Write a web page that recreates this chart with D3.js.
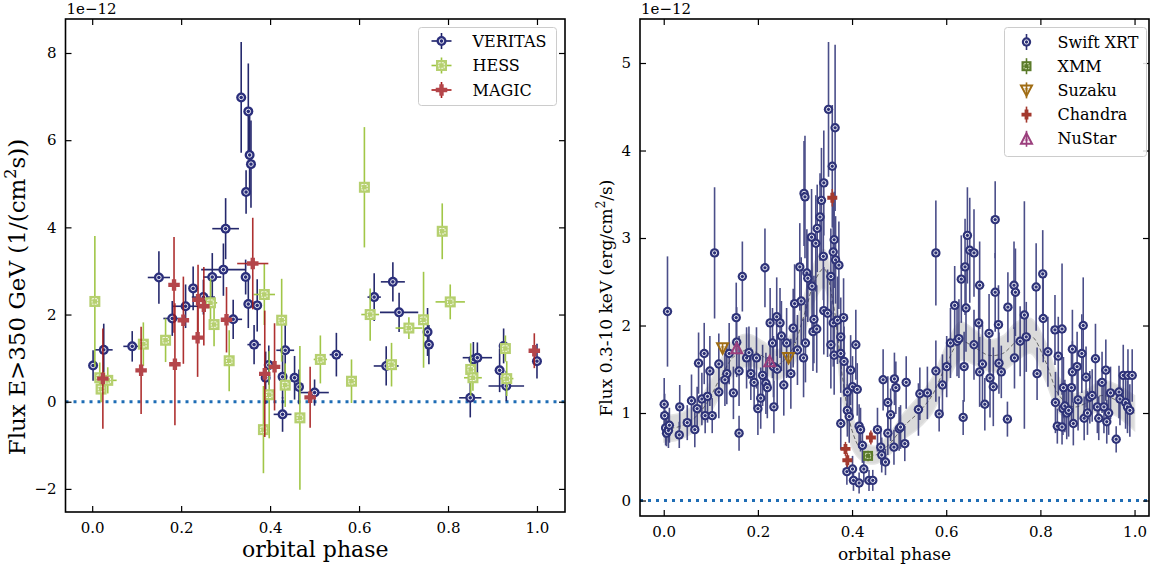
<!DOCTYPE html>
<html><head><meta charset="utf-8">
<script src="https://cdn.jsdelivr.net/npm/d3@7"></script>
<style>body{margin:0;background:#fff} svg text{font-family:"DejaVu Serif",serif;fill:#000}</style>
</head><body>
<svg id="c" width="1158" height="565"></svg>
<script>
// ---------- DATA (flux in units of 1e-12) ----------
// Left panel: [phase, flux, xerr, yerr]
const veritas = [
[0.002,0.83,0,0.35],[0.026,1.19,0.02,0.6],[0.09,1.27,0.02,0.35],[0.15,2.85,0.025,0.6],
[0.18,1.91,0.02,0.4],[0.227,2.6,0.01,0.5],[0.21,2.19,0.03,0.5],[0.25,2.4,0.026,0.4],
[0.27,2.86,0.02,0.55],[0.295,3.03,0.05,0.6],[0.30,3.97,0.03,0.7],[0.317,1.89,0.02,0.45],
[0.335,6.98,0,1.27],[0.351,6.66,0,1.1],[0.354,5.66,0,0.9],[0.357,5.45,0,1.0],
[0.346,4.81,0,0.5],[0.345,2.86,0.01,0.4],[0.351,2.24,0.01,0.55],[0.371,2.21,0,0.6],
[0.364,1.31,0.015,0.45],[0.434,1.18,0.02,0.6],[0.397,0.84,0,0.45],[0.39,0.55,0,0.6],
[0.428,0.57,0,0.5],[0.455,0.55,0,0.5],[0.465,0.34,0,0.4],[0.50,0.21,0.032,0.3],
[0.428,-0.29,0.02,0.4],[0.549,1.08,0.015,0.5],[0.634,2.40,0.015,0.55],[0.676,2.75,0.027,0.45],
[0.69,2.05,0.043,0.45],[0.754,1.6,0,0.55],[0.757,1.31,0.01,0.45],[0.661,0.82,0.028,0.45],
[0.85,0.09,0.025,0.45],[0.857,0.97,0,0.4],[0.866,1.01,0.033,0.35],[0.916,0.72,0,0.5],
[0.931,0.36,0.04,0.35],[0.925,1.28,0,0.4],[1.0,0.93,0,0.4]
];
const hess = [
[0.006,2.3,0,1.5],[0.017,0.55,0.01,0.35],[0.02,0.29,0.01,0.3],[0.035,0.49,0.02,0.3],
[0.115,1.32,0,0.5],[0.165,1.41,0,0.5],[0.266,2.27,0.015,0.55],[0.274,1.77,0,0.5],
[0.308,0.94,0,0.7],[0.387,2.46,0.024,0.7],[0.426,1.87,0,0.95],[0.513,0.97,0.015,0.55],
[0.583,0.47,0,0.5],[0.625,2.0,0.02,0.6],[0.398,0.16,0,1.0],[0.434,0.38,0,0.5],
[0.467,-0.37,0,1.65],[0.385,-0.64,0,1.0],[0.612,4.92,0,1.38],[0.787,3.91,0.01,0.64],
[0.805,2.29,0.033,0.4],[0.712,1.69,0.03,0.25],[0.745,1.88,0,1.1],[0.673,0.85,0,0.5],
[0.851,0.74,0,0.6],[0.856,0.55,0.02,0.3],[0.929,1.22,0,0.3],[0.932,0.53,0.015,0.4]
];
const magic = [
[0.024,0.53,0.01,1.15],[0.11,0.72,0,1.0],[0.184,2.68,0,1.1],[0.186,0.86,0,1.4],
[0.205,1.87,0,1.0],[0.238,2.34,0,0.8],[0.251,2.19,0,0.9],[0.237,1.47,0,0.9],
[0.302,1.88,0,0.75],[0.361,3.17,0.035,1.05],[0.388,0.64,0,1.45],[0.41,0.8,0,1.0],
[0.49,0.1,0,0.7],[0.994,1.17,0.005,0.4]
];
// Right panel: [phase, flux, yerr]
const swift = [
[0.008,2.16,0.63],[0.001,1.10,0.3],[0.002,0.97,0.25],[0.004,0.83,0.2],[0.006,0.77,0.15],[0.01,0.80,0.2],[0.012,0.86,0.2],
[0.034,1.07,0.25],[0.033,0.75,0.15],[0.05,0.89,0.2],[0.059,1.14,0.3],[0.066,0.81,0.2],[0.071,1.05,0.25],[0.074,1.57,0.35],
[0.081,1.16,0.3],[0.086,1.68,0.35],[0.088,0.97,0.2],[0.093,1.19,0.3],[0.098,1.48,0.4],[0.103,0.97,0.2],[0.108,2.83,0.75],
[0.117,1.24,0.3],[0.117,1.56,0.35],[0.134,1.45,0.35],[0.13,1.38,0.3],[0.139,1.68,0.35],[0.154,2.09,0.4],[0.148,1.23,0.3],
[0.16,0.77,0.2],[0.16,1.48,0.4],[0.167,2.56,0.4],[0.155,1.81,0.4],[0.176,1.63,0.35],[0.181,1.69,0.3],[0.185,1.45,0.3],
[0.192,1.35,0.3],[0.197,1.63,0.35],[0.2,1.05,0.3],[0.206,1.17,0.35],[0.21,1.43,0.35],[0.215,2.66,0.45],[0.217,1.34,0.35],
[0.22,1.29,0.35],[0.226,2.03,0.4],[0.231,1.8,0.4],[0.233,1.53,0.35],[0.234,1.07,0.3],[0.24,2.1,0.45],[0.241,1.5,0.4],
[0.247,2.03,0.4],[0.25,1.88,0.4],[0.255,1.32,0.35],[0.261,1.8,0.4],[0.27,1.45,0.4],[0.275,1.97,0.45],[0.278,2.25,0.45],
[0.284,1.72,0.4],[0.289,2.67,0.5],[0.292,2.28,0.5],[0.297,1.63,0.45],[0.298,3.51,0.6],[0.30,3.47,0.7],[0.301,1.8,0.45],
[0.304,2.6,0.5],[0.306,2.54,0.5],[0.315,2.45,0.5],[0.314,3.01,0.55],[0.319,2.07,0.5],[0.317,1.93,0.45],[0.325,1.96,0.5],
[0.323,2.94,0.55],[0.326,3.11,0.5],[0.332,3.24,0.5],[0.335,3.43,0.6],[0.339,2.79,0.5],[0.34,3.63,0.6],[0.34,2.17,0.5],
[0.348,2.14,0.5],[0.35,4.47,0.77],[0.358,3.82,0.7],[0.364,4.26,0.95],[0.362,2.98,0.55],[0.36,2.84,0.6],[0.355,2.56,0.55],
[0.365,2.75,0.5],[0.372,2.69,0.5],[0.36,2.03,0.5],[0.369,2.06,0.5],[0.382,2.09,0.45],[0.376,1.87,0.45],[0.355,1.78,0.5],
[0.362,1.66,0.45],[0.376,1.68,0.45],[0.383,1.59,0.4],[0.397,1.49,0.4],[0.408,1.78,0.4],[0.39,1.24,0.35],[0.401,1.3,0.35],
[0.411,1.27,0.3],[0.39,1.03,0.3],[0.394,0.96,0.3],[0.376,0.88,0.3],[0.389,0.33,0.15],[0.401,0.36,0.15],[0.403,0.23,0.12],
[0.415,0.2,0.12],[0.415,0.85,0.25],[0.418,0.81,0.25],[0.422,0.63,0.2],[0.425,0.36,0.15],[0.436,0.23,0.12],[0.444,0.23,0.12],
[0.454,0.81,0.25],[0.461,0.61,0.2],[0.463,0.52,0.2],[0.471,0.44,0.15],[0.466,1.38,0.35],[0.476,1.12,0.3],[0.476,0.77,0.25],
[0.482,0.98,0.3],[0.49,1.39,0.3],[0.493,1.29,0.3],[0.489,0.61,0.2],[0.50,0.82,0.25],
[0.503,0.84,0.25],[0.512,0.65,0.2],[0.515,1.35,0.3],[0.541,1.04,0.3],[0.544,1.22,0.3],[0.56,1.23,0.3],[0.578,2.83,0.6],
[0.578,1.48,0.35],[0.585,0.99,0.2],[0.592,1.32,0.35],[0.601,1.53,0.35],[0.609,1.8,0.4],[0.618,2.23,0.45],[0.623,1.82,0.4],
[0.627,1.85,0.45],[0.632,2.53,0.5],[0.638,1.53,0.4],[0.636,0.95,0.2],[0.64,2.67,0.55],[0.642,2.2,0.5],[0.645,3.03,0.55],
[0.65,2.86,0.6],[0.659,2.83,0.5],[0.659,1.78,0.4],[0.669,2.03,0.45],[0.671,2.46,0.5],[0.671,1.47,0.4],[0.677,1.56,0.45],
[0.682,1.1,0.3],[0.691,1.91,0.45],[0.693,1.4,0.45],[0.70,1.3,0.45],[0.704,3.21,0.44],[0.704,2.38,0.45],[0.711,2.01,0.45],
[0.712,1.57,0.35],[0.717,1.47,0.3],[0.73,0.93,0.2],[0.731,2.21,0.4],[0.744,2.46,0.5],[0.747,2.38,0.5],[0.745,1.63,0.35],
[0.757,1.82,0.4],[0.766,2.12,1.3],[0.77,1.87,0.4],[0.791,2.44,0.5],[0.793,1.45,0.3],[0.805,2.59,0.5],[0.806,2.08,0.5],
[0.816,1.7,0.4],[0.831,1.95,0.4],[0.838,1.65,0.45],[0.846,1.96,0.75],[0.832,1.12,0.35],[0.836,0.85,0.2],[0.846,0.84,0.2],
[0.848,1.05,0.3],[0.852,1.08,0.3],[0.856,1.0,0.3],[0.86,1.03,0.3],[0.849,1.29,0.35],[0.866,1.29,0.4],[0.868,1.73,0.45],
[0.87,0.88,0.25],[0.868,1.47,0.35],[0.878,1.53,0.4],[0.88,1.15,0.35],[0.888,1.68,0.45],[0.891,2.0,0.55],[0.893,0.94,0.25],
[0.897,1.41,0.35],[0.90,1.0,0.25],[0.905,1.18,0.3],[0.91,1.2,0.3],[0.917,1.62,0.4],[0.921,1.07,0.3],[0.924,0.94,0.25],
[0.931,1.35,0.35],[0.935,1.07,0.3],[0.939,1.49,0.35],[0.941,0.9,0.25],[0.945,1.0,0.25],[0.949,1.23,0.3],[0.961,0.7,0.15],
[0.967,1.24,0.3],[0.969,1.16,0.3],[0.976,1.43,0.35],[0.981,1.12,0.3],[0.985,1.07,0.3],[0.986,1.43,0.3],[0.99,1.03,0.3],
[0.995,1.43,0.3]
];
const xmm = [[0.434,0.51,0.06]];
const suzaku = [[0.125,1.74,0.06],[0.265,1.63,0.06]];
const chandra = [[0.358,3.46,0.1],[0.386,0.59,0.08],[0.39,0.46,0.08],[0.44,0.72,0.08]];
const nustar = [[0.155,1.74,0.05],[0.225,1.59,0.05]];
// model band (right panel): phase, centre, half-width
const modelPhase = [0,0.03,0.06,0.09,0.12,0.15,0.18,0.21,0.24,0.27,0.30,0.32,0.34,0.36,0.38,0.40,0.42,0.45,0.48,0.51,0.54,0.57,0.60,0.63,0.66,0.69,0.72,0.75,0.78,0.81,0.84,0.87,0.90,0.93,0.96,1.0];
const modelFlux  = [0.82,0.84,0.92,1.1,1.4,1.65,1.72,1.65,1.55,1.7,2.15,2.5,2.65,2.25,1.4,0.8,0.58,0.52,0.65,0.85,1.0,1.2,1.55,1.82,1.75,1.66,1.68,1.82,1.88,1.6,1.2,1.07,1.12,1.2,1.15,1.0];
const modelHalf  = [0.15,0.15,0.15,0.17,0.2,0.2,0.18,0.17,0.17,0.2,0.22,0.22,0.22,0.25,0.25,0.2,0.12,0.1,0.12,0.15,0.18,0.2,0.22,0.22,0.2,0.18,0.2,0.22,0.2,0.22,0.2,0.15,0.15,0.17,0.18,0.2];
const xTickVals = [0,0.2,0.4,0.6,0.8,1.0];
const leftYTicks = [-2,0,2,4,6,8];
const rightYTicks = [0,1,2,3,4,5];

// ---------- DRAW ----------
const svg = d3.select('#c');
const fmtY = d => d < 0 ? '\u2212' + Math.abs(d) : String(d);

function makeAxes(o){
  const x = d3.scaleLinear().domain(o.xlim).range([o.x0,o.x1]);
  const y = d3.scaleLinear().domain(o.ylim).range([o.y1,o.y0]);
  const g = svg.append('g');
  const clipId = 'clip'+o.id;
  svg.append('clipPath').attr('id',clipId).append('rect')
    .attr('x',o.x0).attr('y',o.y0).attr('width',o.x1-o.x0).attr('height',o.y1-o.y0);
  const plot = g.append('g').attr('clip-path',`url(#${clipId})`);
  return {x,y,g,plot};
}
function finishAxes(A,o){
  const {x,y,g} = A;
  const ax = (gen, tr, lab) => {
    const a = g.append('g').attr('transform',tr).call(gen);
    a.select('.domain').remove();
    a.selectAll('.tick line').attr('stroke','#000').attr('stroke-width',1.2);
    a.selectAll('.tick text').style('font-size',o.tickFs+'px').style('font-family','DejaVu Serif').attr('fill','#000');
    if(!lab) a.selectAll('.tick text').remove();
    return a;
  };
  ax(d3.axisBottom(x).tickValues(xTickVals).tickFormat(d3.format('.1f')).tickSize(-6).tickSizeOuter(0).tickPadding(10), `translate(0,${o.y1})`, true);
  ax(d3.axisTop(x).tickValues(xTickVals).tickSize(-6).tickSizeOuter(0), `translate(0,${o.y0})`, false);
  ax(d3.axisLeft(y).tickValues(o.yTicks).tickFormat(fmtY).tickSize(-6).tickSizeOuter(0).tickPadding(9), `translate(${o.x0},0)`, true);
  ax(d3.axisRight(y).tickValues(o.yTicks).tickSize(-6).tickSizeOuter(0), `translate(${o.x1},0)`, false);
  g.append('rect').attr('x',o.x0).attr('y',o.y0).attr('width',o.x1-o.x0).attr('height',o.y1-o.y0)
    .attr('fill','none').attr('stroke','#000').attr('stroke-width',1.6);
  g.append('text').attr('x',o.x0+1).attr('y',o.y0-5).style('font-size',o.tickFs+'px').text('1e\u221212');
  g.append('text').attr('x',(o.x0+o.x1)/2).attr('y',o.xlabY).attr('text-anchor','middle')
    .style('font-size',o.xlabFs+'px').text('orbital phase');
  const yl = g.append('text').attr('transform',`translate(${o.ylabX},${o.ylabCY}) rotate(-90)`)
    .attr('text-anchor','middle').style('font-size',o.ylabFs+'px');
  o.ylabel(yl);
}

// marker painters
function mCircle(sel, r, col){
  sel.append('circle').attr('r',r).attr('fill',col);
  sel.append('circle').attr('r',r*0.45).attr('fill','none').attr('stroke','#fff').attr('stroke-width',0.9);
}
function mSquare(sel, s, col, inner){
  sel.append('rect').attr('x',-s/2).attr('y',-s/2).attr('width',s).attr('height',s).attr('fill',col);
  sel.append('rect').attr('x',-s/4).attr('y',-s/4).attr('width',s/2).attr('height',s/2)
    .attr('fill','none').attr('stroke',inner).attr('stroke-width',1).attr('stroke-dasharray','2,1');
}
function mPlus(sel, s, col){
  const a = s/2, w = s*0.19;
  sel.append('path').attr('d',`M${-w},${-a}H${w}V${-w}H${a}V${w}H${w}V${a}H${-w}V${w}H${-a}V${-w}H${-w}Z`).attr('fill',col);
}
function mTri(sel, s, col, down){
  const h = s*0.5, k = down?1:-1;
  sel.append('path').attr('d',`M0,${k*h}L${-h},${-k*h*0.9}L${h},${-k*h*0.9}Z`).attr('fill','none').attr('stroke',col).attr('stroke-width',2);
  sel.append('path').attr('d',`M0,${k*h*0.25}L${-h*0.3},${-k*h*0.35}L${h*0.3},${-k*h*0.35}Z`).attr('fill','none').attr('stroke',col).attr('stroke-width',0.8).attr('opacity',0.7);
}

function errorbars(A, data, col, lw, hasX, opacity){
  const g = A.plot.append('g').attr('stroke',col).attr('stroke-width',lw).attr('opacity',opacity);
  data.forEach(d => {
    const yerr = hasX ? d[3] : d[2];
    g.append('line').attr('x1',A.x(d[0])).attr('x2',A.x(d[0])).attr('y1',A.y(d[1]-yerr)).attr('y2',A.y(d[1]+yerr));
    if(hasX && d[2]>0) g.append('line').attr('x1',A.x(d[0]-d[2])).attr('x2',A.x(d[0]+d[2])).attr('y1',A.y(d[1])).attr('y2',A.y(d[1]));
  });
}
function markers(A, data, painter){
  const g = A.plot.append('g');
  data.forEach(d => { painter(g.append('g').attr('transform',`translate(${A.x(d[0])},${A.y(d[1])})`)); });
}

const C = {ver:'#2b2f7c', verE:'#1a1e66', hess:'#b6d070', hessE:'#9cc43e', mag:'#b4454a', magE:'#a61b1b',
  sw:'#2e3379', swE:'#2c3075', xmm:'#5b7b2a', suz:'#a06d14', cha:'#a3392e', nus:'#9b3f7d', zero:'#1f6db5'};

// ---------- LEFT PANEL ----------
const oL = {id:'L', x0:65.5, x1:565, y0:19, y1:512, xlim:[-0.06,1.063], ylim:[-2.53,8.78], yTicks:leftYTicks,
  tickFs:15, xlabFs:22, ylabFs:23, xlabY:557, ylabX:25, ylabCY:297,
  ylabel: t => { t.append('tspan').text('Flux E>350 GeV (1/(cm'); t.append('tspan').attr('dy',-9).style('font-size','16px').text('2');
                 t.append('tspan').attr('dy',9).text('s))'); } };
const L = makeAxes(oL);
L.plot.append('line').attr('x1',oL.x0).attr('x2',oL.x1).attr('y1',L.y(0)).attr('y2',L.y(0))
  .attr('stroke',C.zero).attr('stroke-width',3).attr('stroke-dasharray','3,5');
errorbars(L, veritas, C.verE, 1.6, true, 0.95);
markers(L, veritas, s => mCircle(s, 5, C.ver));
errorbars(L, hess, C.hessE, 1.6, true, 0.95);
markers(L, hess, s => mSquare(s, 11, C.hess, '#f4f8e8'));
errorbars(L, magic, C.magE, 1.6, true, 0.9);
markers(L, magic, s => mPlus(s, 11.5, C.mag));
finishAxes(L, oL);

// left legend
(function(){
  const lg = svg.append('g');
  lg.append('rect').attr('x',418.5).attr('y',27.5).attr('width',138).attr('height',78).attr('rx',3)
    .attr('fill','#fff').attr('fill-opacity',0.85).attr('stroke','#cccccc').attr('stroke-width',1);
  const items = [['VERITAS',C.ver,C.verE,s=>mCircle(s,5,C.ver)],['HESS',C.hess,C.hessE,s=>mSquare(s,11,C.hess,'#f4f8e8')],['MAGIC',C.mag,C.magE,s=>mPlus(s,11.5,C.mag)]];
  items.forEach((it,i) => {
    const cy = 41 + i*24.5, cx = 441.5;
    const g = lg.append('g').attr('transform',`translate(${cx},${cy})`);
    g.append('line').attr('x1',-10).attr('x2',10).attr('stroke',it[2]).attr('stroke-width',1.6);
    g.append('line').attr('y1',-8).attr('y2',8).attr('stroke',it[2]).attr('stroke-width',1.6);
    it[3](g);
    lg.append('text').attr('x',472.5).attr('y',cy+5.5).style('font-size','16px').text(it[0]);
  });
})();

// ---------- RIGHT PANEL ----------
const oR = {id:'R', x0:640, x1:1149, y0:19, y1:516, xlim:[-0.0504,1.0307], ylim:[-0.177,5.503], yTicks:rightYTicks,
  tickFs:15, xlabFs:17, ylabFs:17, xlabY:560, ylabX:612, ylabCY:298,
  ylabel: t => { t.append('tspan').text('Flux 0.3-10 keV (erg/cm'); t.append('tspan').attr('dy',-7).style('font-size','12px').text('2');
                 t.append('tspan').attr('dy',7).text('/s)'); } };
const R = makeAxes(oR);
// model band
const band = modelPhase.map((p,i)=>({p, c:modelFlux[i], h:modelHalf[i]}));
R.plot.append('path').datum(band)
  .attr('d', d3.area().x(d=>R.x(d.p)).y0(d=>R.y(d.c-d.h)).y1(d=>R.y(d.c+d.h)).curve(d3.curveCatmullRom))
  .attr('fill','#d6d6d6').attr('fill-opacity',0.9).attr('stroke','#e4e4e4').attr('stroke-width',1.5);
R.plot.append('path').datum(band)
  .attr('d', d3.line().x(d=>R.x(d.p)).y(d=>R.y(d.c)).curve(d3.curveCatmullRom))
  .attr('fill','none').attr('stroke','#666').attr('stroke-width',1).attr('stroke-dasharray','4,2.5');
R.plot.append('line').attr('x1',oR.x0).attr('x2',oR.x1).attr('y1',R.y(0)).attr('y2',R.y(0))
  .attr('stroke',C.zero).attr('stroke-width',3).attr('stroke-dasharray','3,5');
errorbars(R, swift, C.swE, 1.6, false, 0.85);
markers(R, swift, s => mCircle(s, 4.7, C.sw));
errorbars(R, xmm, C.xmm, 1.5, false, 1); markers(R, xmm, s => mSquare(s, 10, C.xmm, '#c8d8a8'));
errorbars(R, suzaku, C.suz, 1.5, false, 1); markers(R, suzaku, s => mTri(s, 11, C.suz, true));
errorbars(R, chandra, C.cha, 1.5, false, 1); markers(R, chandra, s => mPlus(s, 10, C.cha));
errorbars(R, nustar, C.nus, 1.5, false, 1); markers(R, nustar, s => mTri(s, 11, C.nus, false));
finishAxes(R, oR);

// right legend
(function(){
  const lg = svg.append('g');
  lg.append('rect').attr('x',1004.5).attr('y',27.5).attr('width',142).attr('height',129).attr('rx',3)
    .attr('fill','#fff').attr('fill-opacity',0.85).attr('stroke','#cccccc').attr('stroke-width',1);
  const items = [['Swift XRT',C.swE,s=>mCircle(s,4.7,C.sw)],['XMM',C.xmm,s=>mSquare(s,10,C.xmm,'#c8d8a8')],
    ['Suzaku',C.suz,s=>mTri(s,11,C.suz,true)],['Chandra',C.cha,s=>mPlus(s,10,C.cha)],['NuStar',C.nus,s=>mTri(s,11,C.nus,false)]];
  items.forEach((it,i) => {
    const cy = 42 + i*24.2, cx = 1026.5;
    const g = lg.append('g').attr('transform',`translate(${cx},${cy})`);
    g.append('line').attr('y1',-8).attr('y2',8).attr('stroke',it[1]).attr('stroke-width',1.6);
    it[2](g);
    lg.append('text').attr('x',1057.5).attr('y',cy+5.5).style('font-size','16px').text(it[0]);
  });
})();
</script>
</body></html>
